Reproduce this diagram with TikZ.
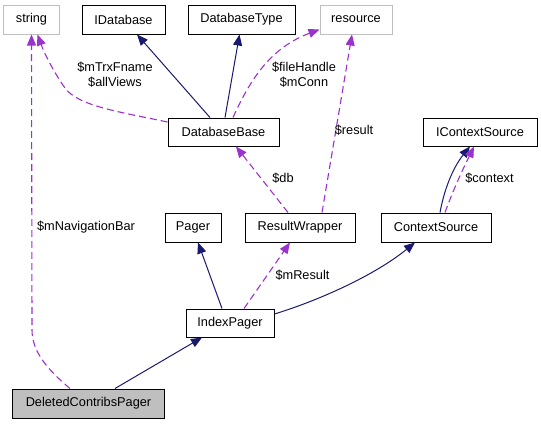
\documentclass[tikz,border=0pt]{standalone}
\usepackage{fontspec}
\setmainfont{Liberation Sans}
\usetikzlibrary{arrows.meta}
\definecolor{navyedge}{HTML}{191970}
\definecolor{purpedge}{HTML}{9A32CD}
\definecolor{grayborder}{HTML}{BFBFBF}
\begin{document}
\begin{tikzpicture}[x=1bp,y=-1bp, font=\fontsize{12.8}{15}\selectfont,
  cls/.style={draw=black, line width=1bp, inner sep=0pt, minimum height=29bp},
  ext/.style={draw=grayborder, line width=1bp, inner sep=0pt, minimum height=29bp},
  inh/.style={draw=navyedge, line width=1bp, -{Triangle[length=11bp,width=9bp]}},
  use/.style={draw=purpedge, line width=1.1bp, dash pattern=on 7bp off 4bp, -{Triangle[length=11bp,width=9bp]}},
  lbl/.style={inner sep=0pt, align=center}]
\useasboundingbox (0,0) rectangle (541,424);
% nodes
\node[ext, minimum width=55bp] (str) at (31.5,19.5) {string};
\node[cls, minimum width=83bp] (idb) at (123.5,19.5) {IDatabase};
\node[cls, minimum width=107bp] (dbt) at (241.5,19.5) {DatabaseType};
\node[ext, minimum width=72bp] (res) at (356,19.5) {resource};
\node[cls, minimum width=111bp, minimum height=28bp] (dbb) at (223.5,132) {DatabaseBase};
\node[cls, minimum width=114bp, minimum height=28bp] (ics) at (480,132) {IContextSource};
\node[cls, minimum width=56bp] (pg) at (193,227.5) {Pager};
\node[cls, minimum width=110bp] (rw) at (300,227.5) {ResultWrapper};
\node[cls, minimum width=110bp] (cs) at (436,227.5) {ContextSource};
\node[cls, minimum width=88bp, minimum height=28bp] (ip) at (230,323) {IndexPager};
\node[cls, fill=grayborder, minimum width=151bp] (dcp) at (88.5,403.5) {DeletedContribsPager};
% edges
\draw[use] ([xshift=-18.5bp]dcp.north) .. controls (48,370) and (32,352) .. (32,330) -- (str.south);
\draw[use] ([yshift=10bp]dbb.west) .. controls (120,112) and (78,106) .. (65,88) .. controls (55,74) and (45,55) .. ([xshift=6bp]str.south);
\draw[inh] ([xshift=-13.5bp]dbb.north) -- ([xshift=13.5bp]idb.south);
\draw[inh] ([xshift=1.5bp]dbb.north) -- ([xshift=-2bp]dbt.south);
\draw[use] ([xshift=9.5bp]dbb.north) .. controls (250,80) and (270,48) .. ([yshift=5bp]res.south west);
\draw[use] ([xshift=22bp]rw.north) -- ([xshift=-4bp]res.south);
\draw[use] ([xshift=-12bp]rw.north) -- ([xshift=12.5bp]dbb.south);
\draw[inh] ([xshift=-8bp]ip.north) -- ([xshift=5bp]pg.south);
\draw[use] ([xshift=14bp]ip.north) -- ([xshift=-10bp]rw.south);
\draw[inh] ([yshift=9bp]ip.east) .. controls (320,300) and (375,275) .. ([xshift=-21bp]cs.south);
\draw[inh] ([xshift=4bp]cs.north) .. controls (445,185) and (455,165) .. ([xshift=-10bp]ics.south);
\draw[use] ([xshift=9bp]cs.north) .. controls (455,185) and (465,165) .. ([xshift=-6bp]ics.south);
\draw[inh] ([xshift=26.5bp]dcp.north) -- ([xshift=-28bp]ip.south);
% labels
\node[lbl] (l1) at (86,227) {\$mNavigationBar};
\node[lbl] (l2) at (115,75) {\$mTrxFname\\\$allViews};
\node[lbl] (l3) at (304,75) {\$fileHandle\\\$mConn};
\node[lbl] (l4) at (354,130) {\$result};
\node[lbl] (l5) at (283,178) {\$db};
\node[lbl] (l6) at (489.5,178) {\$context};
\node[lbl] (l7) at (302.5,275) {\$mResult};
\end{tikzpicture}
\end{document}
